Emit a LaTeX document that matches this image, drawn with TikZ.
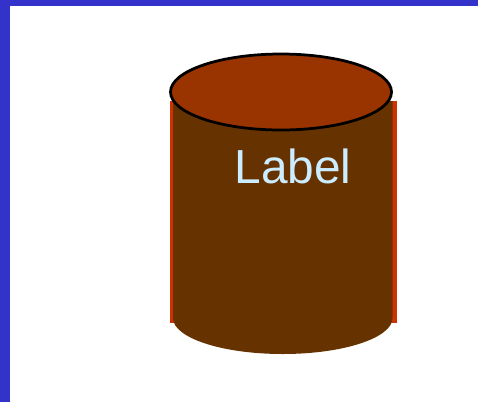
\documentclass[tikz,border=0pt]{standalone}
\usepackage{fontspec}
\setmainfont{Liberation Sans}
\definecolor{frameblue}{HTML}{3333CC}
\definecolor{canbrown}{HTML}{663300}
\definecolor{canedge}{HTML}{CC3300}
\definecolor{cantop}{HTML}{993300}
\definecolor{labelblue}{HTML}{CCECFF}

\begin{document}
\begin{tikzpicture}
\tikzstyle{frame} = [fill=frameblue, draw=none]
\tikzstyle{canside} = [fill=canedge, draw=none]

\useasboundingbox (0,0) rectangle (9.56,8.04);
\fill[white] (0,0) rectangle (9.56,8.04);

\draw[frame] (0,7.92) rectangle (9.56,8.04);
\draw[frame] (0,0) rectangle (0.2,8.04);

\draw[canside] (3.4,1.58) rectangle (3.5,6.02);
\draw[canside] (7.82,1.58) rectangle (7.93,6.02);

\fill[canbrown] (3.46,6.02) -- (3.46,1.68) arc (180:360:2.195 and 0.72) -- (7.85,6.02) -- cycle;

\draw[fill=cantop, line width=0.055cm] (5.62,6.2) ellipse (2.21 and 0.76);

\node[text=labelblue, font=\fontsize{27.2}{32}\selectfont, anchor=base] (label) at (5.86,4.38) {Label};

\end{tikzpicture}
\end{document}
